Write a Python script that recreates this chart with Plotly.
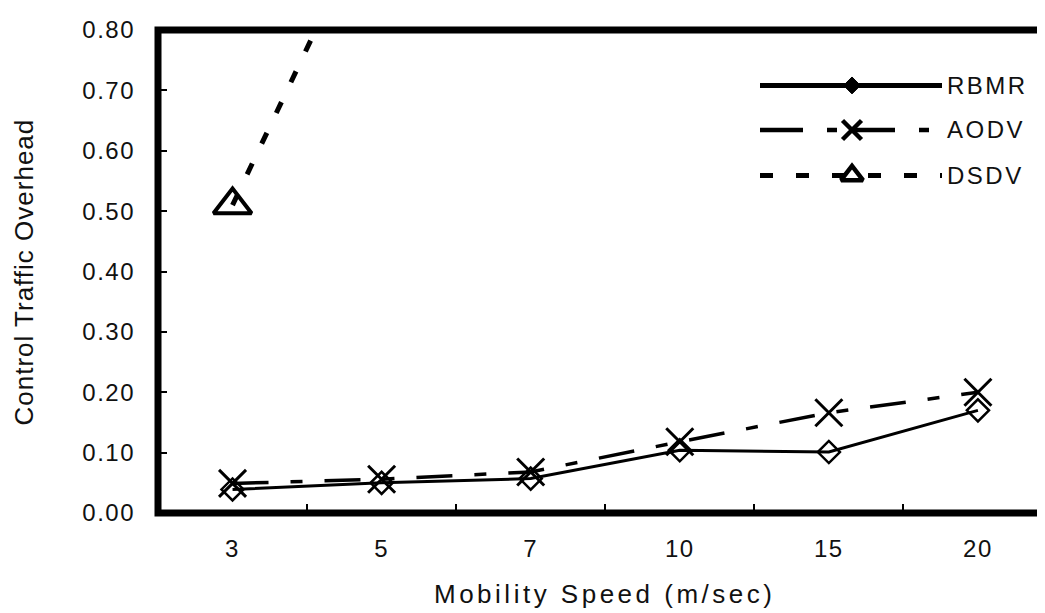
import plotly.graph_objects as go

# ---- data ----
speeds = ["3", "5", "7", "10", "15", "20"]
rbmr = [0.039, 0.050, 0.057, 0.104, 0.101, 0.170]
aodv = [0.049, 0.056, 0.068, 0.118, 0.166, 0.200]
dsdv = [0.51, 1.03, 1.42, 1.87, 2.31, 2.66]  # beyond 0.8 the values are off-chart (clipped)

y_tick_vals = [0.0, 0.1, 0.2, 0.3, 0.4, 0.5, 0.6, 0.7, 0.8]
y_tick_text = ["0.00", "0.10", "0.20", "0.30", "0.40", "0.50", "0.60", "0.70", "0.80"]

x_title = "Mobility Speed (m/sec)"
y_title = "Control Traffic Overhead"
series_names = ["RBMR", "AODV", "DSDV"]

# ---- layout geometry (screen pixels; page body adds an 8px offset) ----
OFF = 8
W, H = 1045, 613
SX0, SX1, SY0, SY1 = 158, 1045, 25, 513      # wanted plot area on screen
L, T = SX0 - OFF, SY0 - OFF
R = W - (SX1 - OFF)
B = H - (SY1 - OFF)
PW, PH = SX1 - SX0, SY1 - SY0


def px(x):
    return (x - SX0) / PW


def py(y):
    return (SY1 - y) / PH


def span(t, ls):
    return f'<span style="letter-spacing:{ls}px">{t}</span>'


FONT = "Liberation Sans, Arial, Helvetica, sans-serif"
INK = "#111111"

fig = go.Figure()

# ---- main data traces ----
fig.add_trace(go.Scatter(
    x=speeds, y=dsdv, mode="lines+markers", name=series_names[2],
    line=dict(color="black", width=5, dash="12px,22px"),
    marker=dict(symbol="triangle-up-open", size=33, color="black",
                line=dict(width=4, color="black")),
    cliponaxis=True))
fig.add_trace(go.Scatter(
    x=speeds, y=aodv, mode="lines+markers", name=series_names[1],
    line=dict(color="black", width=3.5, dash="36px,22px,12px,22px"),
    marker=dict(symbol="x-thin-open", size=27, color="black",
                line=dict(width=3, color="black"))))
fig.add_trace(go.Scatter(
    x=speeds, y=rbmr, mode="lines+markers", name=series_names[0],
    line=dict(color="black", width=3),
    marker=dict(symbol="diamond-open", size=17, color="black",
                line=dict(width=2.5, color="black"))))

# ---- hand-drawn legend on a pixel overlay ----
leg_x0, leg_x1, leg_mx = 760, 942, 852
leg_rows = [
    (series_names[0], 81, dict(color="black", width=5), dict(symbol="diamond", size=13, color="black", line=dict(width=1, color="black"))),
    (series_names[1], 126, dict(color="black", width=4.5, dash="43px,24px,10px,15px"), dict(symbol="x-thin-open", size=19, color="black", line=dict(width=4.5, color="black"))),
    (series_names[2], 172, dict(color="black", width=5, dash="13px,23px"), dict(symbol="triangle-up-open", size=19, color="black", line=dict(width=4.5, color="black"))),
]
for name, ly, lstyle, mstyle in leg_rows:
    fig.add_trace(go.Scatter(x=[leg_x0, leg_x1], y=[ly, ly], mode="lines", line=lstyle,
                             xaxis="x2", yaxis="y2", hoverinfo="skip", showlegend=False))
    fig.add_trace(go.Scatter(x=[leg_mx], y=[ly], mode="markers", marker=mstyle,
                             xaxis="x2", yaxis="y2", hoverinfo="skip", showlegend=False))
    fig.add_annotation(x=px(945), y=py(ly), xref="paper", yref="paper",
                       text=span(name, 2.5), showarrow=False, xanchor="left", yanchor="middle",
                       font=dict(size=24, color=INK, family=FONT))

# ---- axis titles ----
fig.add_annotation(x=px(604), y=py(595), xref="paper", yref="paper", text=span(x_title, 3.5),
                   showarrow=False, xanchor="center", yanchor="middle",
                   font=dict(size=26, color=INK, family=FONT))
fig.add_annotation(x=px(24), y=py(270), xref="paper", yref="paper", text=span(y_title, 1),
                   showarrow=False, xanchor="center", yanchor="middle", textangle=-90,
                   font=dict(size=26, color=INK, family=FONT))

# ---- thick frame (left, top, bottom) ----
fig.add_shape(type="path", xref="paper", yref="paper", path="M 1.01,1 L 0,1 L 0,0 L 1.01,0",
              line=dict(color="black", width=7), fillcolor="rgba(0,0,0,0)", layer="above")

fig.update_layout(
    width=W, height=H, margin=dict(l=L, r=R, t=T, b=B),
    paper_bgcolor="white", plot_bgcolor="white", showlegend=False,
    font=dict(family=FONT, color=INK, size=24),
    xaxis=dict(type="category", range=[-0.5, 5.45], showgrid=False, zeroline=False,
               showline=False, ticks="inside", ticklen=9, tickwidth=1.5, tickcolor="black",
               tickson="boundaries", tickvals=speeds, ticktext=[span(s, 1.5) for s in speeds],
               ticklabelstandoff=19, tickfont=dict(size=24, color=INK, family=FONT),
               fixedrange=True),
    yaxis=dict(range=[0, 0.8], showgrid=False, zeroline=False, showline=False,
               ticks="inside", ticklen=9, tickwidth=1.5, tickcolor="black",
               tickvals=y_tick_vals, ticktext=[span(t, 1.5) for t in y_tick_text],
               ticklabelstandoff=22, tickfont=dict(size=24, color=INK, family=FONT),
               fixedrange=True),
    xaxis2=dict(overlaying="x", range=[SX0, SX1], visible=False, anchor="y2", fixedrange=True),
    yaxis2=dict(overlaying="y", range=[SY1, SY0], visible=False, anchor="x2", fixedrange=True),
)

fig.write_html("out.html")
